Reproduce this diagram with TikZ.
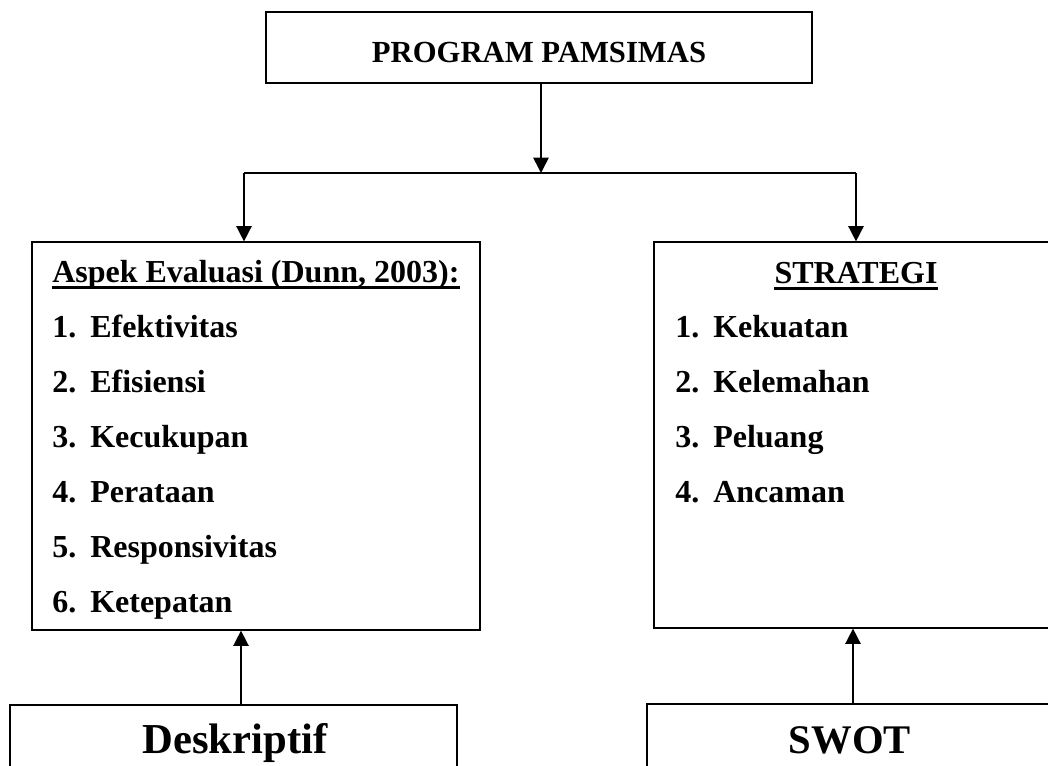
\documentclass[tikz,border=0pt]{standalone}
\usepackage{fontspec}
\setmainfont{Liberation Serif}
\usetikzlibrary{arrows.meta}
\begin{document}
\begin{tikzpicture}[x=0.75pt,y=-0.75pt,
  box/.style={draw, line width=0.9pt, inner sep=0pt},
  conn/.style={line width=1.2pt},
  arr/.style={conn, -{Triangle[width=11.5pt,length=11.5pt]}},
  txt/.style={font=\fontsize{24pt}{28pt}\selectfont\bfseries, inner sep=0pt, anchor=base west},
  big/.style={font=\fontsize{32pt}{36pt}\selectfont\bfseries, inner sep=0pt, anchor=base},
]
\path[use as bounding box] (0,0) rectangle (1048,765);
\clip (0,0) rectangle (1048,765);

% boxes
\node[box, minimum width=409.5pt, minimum height=53.25pt] (top) at (539,47.5) {};
\node[font=\fontsize{23pt}{27pt}\selectfont\bfseries, inner sep=0pt] (toptxt) at (539,52) {PROGRAM PAMSIMAS};

\node[box, minimum width=336pt, minimum height=291pt] (left) at (256,436) {};
\node[box, minimum width=303pt, minimum height=289.5pt] (right) at (856,435) {};
\node[box, minimum width=335.25pt, minimum height=90pt] (dl) at (233.5,765) {};
\node[box, minimum width=304.5pt, minimum height=90pt] (dr) at (850,764) {};

% left box texts
\node[txt] (h1) at (52,282) {Aspek Evaluasi (Dunn, 2003):};
\draw[line width=2.2pt] ([yshift=-4pt]h1.base west) -- ([yshift=-4pt]h1.base east);
\node[txt] (l1n) at (52,337) {1.}; \node[txt] (l1) at (90,337) {Efektivitas};
\node[txt] (l2n) at (52,392) {2.}; \node[txt] (l2) at (90,392) {Efisiensi};
\node[txt] (l3n) at (52,447) {3.}; \node[txt] (l3) at (90,447) {Kecukupan};
\node[txt] (l4n) at (52,502) {4.}; \node[txt] (l4) at (90,502) {Perataan};
\node[txt] (l5n) at (52,557) {5.}; \node[txt] (l5) at (90,557) {Responsivitas};
\node[txt] (l6n) at (52,612) {6.}; \node[txt] (l6) at (90,612) {Ketepatan};

% right box texts
\node[txt, anchor=base] (h2) at (856,283) {STRATEGI};
\draw[line width=2.2pt] ([yshift=-4pt]h2.base west) -- ([yshift=-4pt]h2.base east);
\node[txt] (r1n) at (675,337) {1.}; \node[txt] (r1) at (713,337) {Kekuatan};
\node[txt] (r2n) at (675,392) {2.}; \node[txt] (r2) at (713,392) {Kelemahan};
\node[txt] (r3n) at (675,447) {3.}; \node[txt] (r3) at (713,447) {Peluang};
\node[txt] (r4n) at (675,502) {4.}; \node[txt] (r4) at (713,502) {Ancaman};

% bottom texts
\node[big] (dtxt) at (235,753) {Deskriptif};
\node[big, font=\fontsize{30.5pt}{34pt}\selectfont\bfseries] (stxt) at (850,753) {SWOT};

% connectors
\coordinate (j) at (541,173);
\coordinate (jl) at (244,173);
\coordinate (jr) at (856,173);
\coordinate (bl) at (241,0);
\coordinate (br) at (853,0);
\draw[arr] (top.south -| j) -- (j);
\draw[conn] (jl) -- (jr);
\draw[arr] (jl) -- (jl |- left.north);
\draw[arr] (jr) -- (jr |- right.north);
\draw[arr] (bl |- dl.north) -- (bl |- left.south);
\draw[arr] (br |- dr.north) -- (br |- right.south);
\end{tikzpicture}
\end{document}
